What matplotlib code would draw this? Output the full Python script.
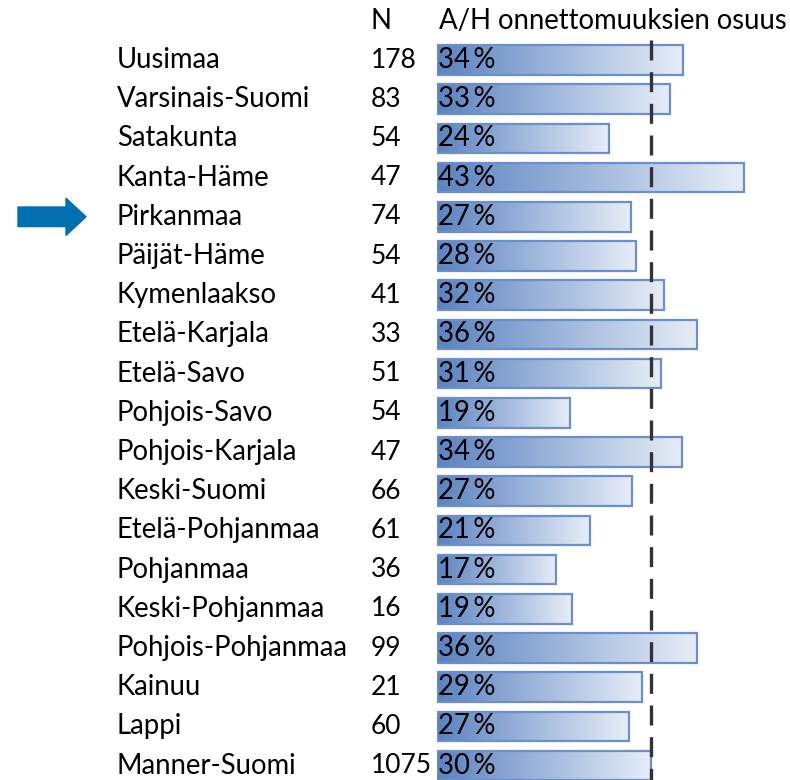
import matplotlib.pyplot as plt
import numpy as np
from matplotlib.colors import LinearSegmentedColormap
from matplotlib.patches import FancyArrow, Rectangle

regions = ["Uusimaa", "Varsinais-Suomi", "Satakunta", "Kanta-Häme", "Pirkanmaa",
           "Päijät-Häme", "Kymenlaakso", "Etelä-Karjala", "Etelä-Savo", "Pohjois-Savo",
           "Pohjois-Karjala", "Keski-Suomi", "Etelä-Pohjanmaa", "Pohjanmaa",
           "Keski-Pohjanmaa", "Pohjois-Pohjanmaa", "Kainuu", "Lappi", "Manner-Suomi"]
counts = [178, 83, 54, 47, 74, 54, 41, 33, 51, 54, 47, 66, 61, 36, 16, 99, 21, 60, 1075]
shares = [34.5, 32.7, 24.1, 43.0, 27.2, 27.9, 31.8, 36.4, 31.4, 18.7,
          34.3, 27.4, 21.4, 16.7, 18.9, 36.4, 28.8, 26.9, 30.0]
share_labels = [34, 33, 24, 43, 27, 28, 32, 36, 31, 19, 34, 27, 21, 17, 19, 36, 29, 27, 30]
reference = 30.0
highlight = "Pirkanmaa"

W, H = 790, 780
px_per_pct = 7.13
bar_left_px = 437
row0_px, row_step = 60, 39.2

fig = plt.figure(figsize=(W / 100, H / 100), dpi=100)
ax = fig.add_axes([bar_left_px / W, 0, 1 - bar_left_px / W, 1])
ax.set_xlim(0, (W - bar_left_px) / px_per_pct)
ax.set_ylim((H - row0_px) / row_step, -row0_px / row_step)
ax.axis("off")

font = ["Lato", "DejaVu Sans"]
fs = 19.8
cmap = LinearSegmentedColormap.from_list("grad", ["#5a83c1", "#e6edf7"])
grad = np.linspace(0, 1, 256).reshape(1, -1)
bh = 0.76

for i, (name, n, v, lab) in enumerate(zip(regions, counts, shares, share_labels)):
    ax.imshow(grad, cmap=cmap, aspect="auto", extent=[0, v, i + bh / 2, i - bh / 2],
              zorder=1, interpolation="bilinear")
    ax.add_patch(Rectangle((0, i - bh / 2), v, bh, fill=False, edgecolor="#6a8fcb",
                           lw=1.6, zorder=2))
    ax.text(0.2, i, f"{lab}\u2009%", va="center", ha="left", fontsize=fs,
            family=font, zorder=4)
    ax.text(-(bar_left_px - 117) / px_per_pct, i, name, va="center", ha="left",
            fontsize=fs, family=font, clip_on=False)
    ax.text(-(bar_left_px - 371) / px_per_pct, i, str(n), va="center", ha="left",
            fontsize=fs * 0.96, family=font, clip_on=False)

ax.text(-(bar_left_px - 371) / px_per_pct, -1, "N", va="center", ha="left",
        fontsize=fs, family=font)
ax.text(0.3, -1, "A/H onnettomuuksien osuus", va="center", ha="left",
        fontsize=fs, family=font)

ax.plot([reference, reference], [-0.5, len(regions)], color="#333333", lw=2.4,
        dashes=(6, 3.5), zorder=3, clip_on=False)

hi = regions.index(highlight)
x0 = -(bar_left_px - 18) / px_per_pct
ax.add_patch(FancyArrow(x0, hi, 68 / px_per_pct, 0, width=0.5, head_width=0.95,
                        head_length=20 / px_per_pct, length_includes_head=True,
                        color="#0070b0", clip_on=False))

fig.savefig("out.png", dpi=100)
